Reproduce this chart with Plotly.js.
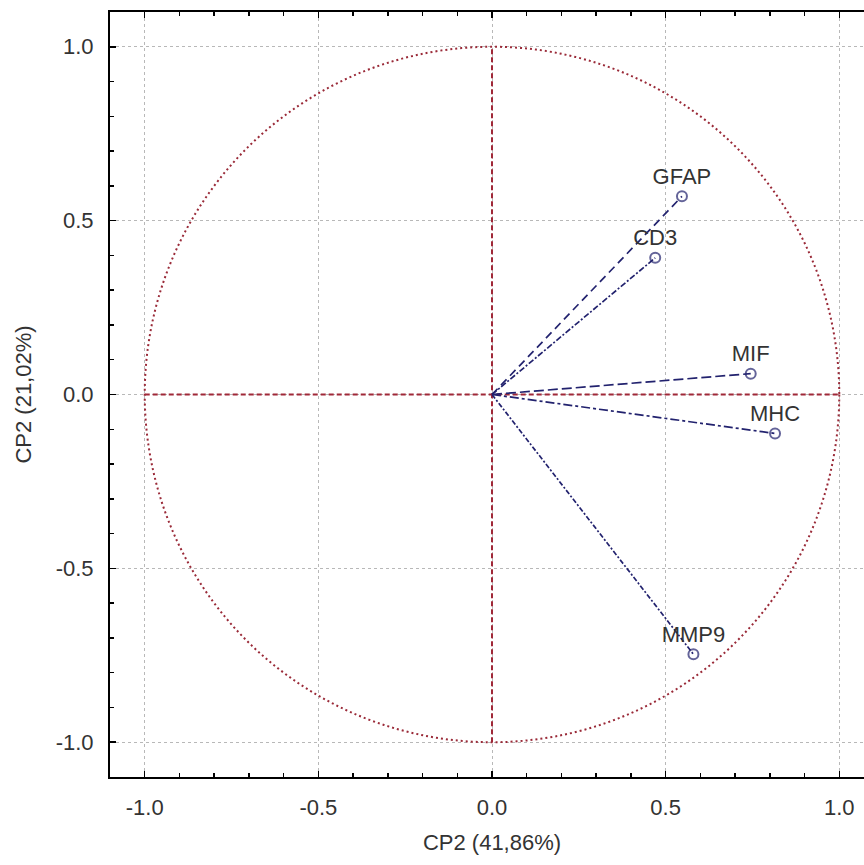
<!DOCTYPE html>
<html>
<head>
<meta charset="utf-8">
<script src="https://cdn.plot.ly/plotly-3.0.1.min.js"></script>
<style>html,body{margin:0;padding:0;overflow:hidden;background:#fff;}#chart{width:880px;height:865px;}</style>
</head>
<body>
<div id="chart"></div>
<script>
// Variables and their loadings on the two principal components
var variables = ['GFAP', 'CD3', 'MIF', 'MHC', 'MMP9'];
var cp1 = [0.547, 0.470, 0.745, 0.815, 0.580];
var cp2 = [0.570, 0.393, 0.060, -0.112, -0.747];
var dashes = ['8px,5px', '6px,2px,2px,2px', '10px,4px', '9px,3px,3px,3px', '5px,2px,2px,2px'];

var tickVals = [-1.0, -0.5, 0.0, 0.5, 1.0];
var tickText = ['-1.0', '-0.5', '0.0', '0.5', '1.0'];

var navy = '#22226e';
var traces = variables.map(function (v, i) {
  return {
    type: 'scatter',
    mode: 'lines+markers+text',
    x: [0, cp1[i]],
    y: [0, cp2[i]],
    text: ['', v],
    textposition: 'top center',
    textfont: {family: 'Liberation Sans, Arial, sans-serif', size: 22, color: '#333'},
    line: {color: navy, width: 1.7, dash: dashes[i]},
    marker: {symbol: 'circle-open', size: [0, 10], color: navy, line: {width: 2, color: navy}},
    hoverinfo: 'x+y+name',
    name: v,
    showlegend: false,
    cliponaxis: false
  };
});

var axisFont = {family: 'Liberation Sans, Arial, sans-serif', size: 22, color: '#333'};
function axis(title, standoff) {
  return {
    range: [-1.1, 1.1],
    tickmode: 'array',
    tickvals: tickVals,
    ticktext: tickText,
    ticks: 'inside',
    ticklen: 6,
    tickwidth: 1.5,
    tickcolor: '#000',
    tickfont: axisFont,
    ticklabelstandoff: 10,
    showline: true,
    linecolor: '#000',
    linewidth: 2,
    mirror: 'ticks',
    showgrid: true,
    gridcolor: '#b8b8b8',
    gridwidth: 1,
    griddash: 'dot',
    zeroline: false,
    minor: {tickmode: 'linear', tick0: 0, dtick: 0.1, ticks: 'inside', ticklen: 4, tickwidth: 1.5, tickcolor: '#000', showgrid: false},
    title: {text: title, font: axisFont, standoff: standoff},
    automargin: false,
    fixedrange: true
  };
}

var red = '#9a2a38';
var layout = {
  width: 880,
  height: 865,
  margin: {l: 110, r: 6, t: 12, b: 88},
  paper_bgcolor: '#fff',
  plot_bgcolor: '#fff',
  xaxis: axis('CP2 (41,86%)', 15),
  yaxis: axis('CP2 (21,02%)', 18),
  shapes: [
    {type: 'circle', xref: 'x', yref: 'y', x0: -1, y0: -1, x1: 1, y1: 1,
     line: {color: red, width: 2, dash: '2px,3px'}, layer: 'between'},
    {type: 'line', xref: 'x', yref: 'y', x0: -1, y0: 0, x1: 1, y1: 0,
     line: {color: '#a02838', width: 2, dash: '5px,3px'}, layer: 'between'},
    {type: 'line', xref: 'x', yref: 'y', x0: 0, y0: -1, x1: 0, y1: 1,
     line: {color: '#a02838', width: 2, dash: '5px,3px'}, layer: 'between'}
  ]
};

Plotly.newPlot('chart', traces, layout, {displayModeBar: false, staticPlot: true});
</script>
</body>
</html>
